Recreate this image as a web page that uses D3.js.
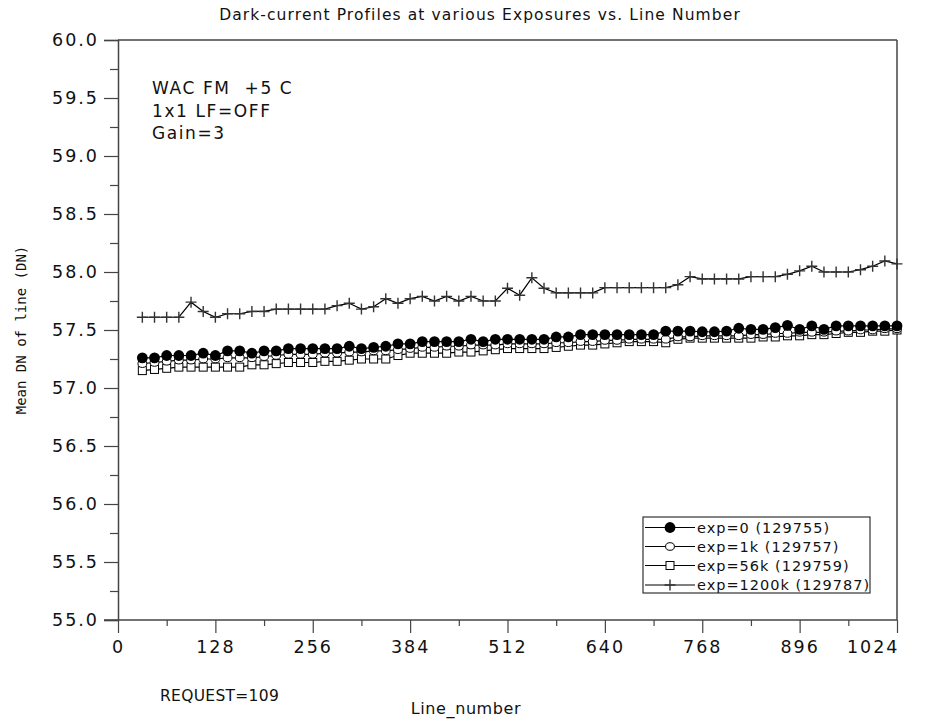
<!DOCTYPE html>
<html>
<head>
<meta charset="utf-8">
<script src="https://cdn.jsdelivr.net/npm/d3@7"></script>
<style>
  html, body { margin: 0; padding: 0; background: #fff; }
  svg { display: block; }
  text { font-family: "DejaVu Sans", Verdana, sans-serif; fill: #111; }
</style>
</head>
<body>
<svg id="chart" width="925" height="722"></svg>
<script>
// ---- data ----
const lineNumbers = [32,48,64,80,96,112,128,144,160,176,192,208,224,240,256,272,288,304,320,336,352,368,384,400,416,432,448,464,480,496,512,528,544,560,576,592,608,624,640,656,672,688,704,720,736,752,768,784,800,816,832,848,864,880,896,912,928,944,960,976,992,1008,1024];

const exp0 = [57.26,57.26,57.28,57.28,57.28,57.30,57.28,57.32,57.32,57.30,57.32,57.32,57.34,57.34,57.34,57.34,57.34,57.36,57.34,57.35,57.36,57.38,57.38,57.40,57.40,57.40,57.40,57.42,57.40,57.42,57.42,57.42,57.42,57.42,57.44,57.44,57.46,57.46,57.46,57.46,57.46,57.46,57.46,57.49,57.49,57.49,57.485,57.485,57.49,57.515,57.505,57.505,57.52,57.54,57.505,57.535,57.505,57.535,57.535,57.535,57.535,57.535,57.535];

const exp1k = [57.21,57.22,57.23,57.24,57.24,57.25,57.25,57.26,57.26,57.26,57.27,57.28,57.29,57.29,57.29,57.30,57.30,57.31,57.31,57.32,57.32,57.33,57.34,57.35,57.35,57.36,57.36,57.37,57.37,57.37,57.38,57.38,57.38,57.38,57.39,57.39,57.40,57.40,57.41,57.41,57.42,57.42,57.42,57.42,57.44,57.44,57.45,57.45,57.45,57.45,57.46,57.46,57.47,57.47,57.48,57.48,57.48,57.49,57.49,57.50,57.50,57.51,57.51];

const exp56k = [57.15,57.16,57.17,57.18,57.18,57.18,57.18,57.18,57.18,57.20,57.20,57.21,57.22,57.22,57.22,57.23,57.23,57.24,57.25,57.25,57.25,57.28,57.30,57.30,57.30,57.30,57.31,57.31,57.32,57.33,57.34,57.34,57.34,57.34,57.35,57.36,57.37,57.37,57.38,57.39,57.40,57.40,57.40,57.39,57.42,57.43,57.43,57.43,57.43,57.43,57.43,57.44,57.44,57.45,57.45,57.46,57.46,57.47,57.48,57.48,57.49,57.49,57.50];

const exp1200k = [57.61,57.61,57.61,57.61,57.74,57.66,57.61,57.64,57.64,57.66,57.66,57.68,57.68,57.68,57.68,57.68,57.71,57.73,57.68,57.70,57.77,57.73,57.77,57.79,57.75,57.79,57.75,57.79,57.75,57.75,57.86,57.80,57.95,57.86,57.82,57.82,57.82,57.82,57.865,57.865,57.865,57.865,57.865,57.865,57.89,57.96,57.94,57.94,57.94,57.94,57.96,57.96,57.96,57.98,58.01,58.05,58.00,58.00,58.00,58.02,58.05,58.095,58.07];

const seriesNames = ["exp=0 (129755)", "exp=1k (129757)", "exp=56k (129759)", "exp=1200k (129787)"];
const markerKinds = ["filledCircle", "openCircle", "square", "plus"];

const xMajorTicks = [0,128,256,384,512,640,768,896,1024];
const xMinorTicks = [64,192,320,448,576,704,832,960];
const yMajorTicks = [55.0,55.5,56.0,56.5,57.0,57.5,58.0,58.5,59.0,59.5,60.0];
const yMinorTicks = [55.25,55.75,56.25,56.75,57.25,57.75,58.25,58.75,59.25,59.75];

const titleText = "Dark-current Profiles at various Exposures vs. Line Number";
const xLabel = "Line_number";
const yLabel = "Mean DN of line (DN)";
const noteLines = ["WAC FM  +5 C", "1x1 LF=OFF", "Gain=3"];
const footNote = "REQUEST=109";

// ---- chart ----
const svg = d3.select("#chart");
const x = d3.scaleLinear().domain([0, 1024]).range([118, 897]);
const y = d3.scaleLinear().domain([55, 60]).range([620, 40]);

const axisColor = "#444";

// frame (top/right)
svg.append("line").attr("x1", x(0)).attr("x2", x(1024)).attr("y1", y(60)).attr("y2", y(60))
  .attr("stroke", axisColor).attr("stroke-width", 1.5);
svg.append("line").attr("x1", x(1024)).attr("x2", x(1024)).attr("y1", y(60)).attr("y2", y(55))
  .attr("stroke", axisColor).attr("stroke-width", 1.5);

// Y axis
const yAxisG = svg.append("g").attr("transform", `translate(${x(0)},0)`);
yAxisG.call(d3.axisLeft(y).tickValues(yMajorTicks).tickSize(14).tickPadding(5).tickFormat(d3.format(".1f")));
yAxisG.select(".domain").attr("stroke", axisColor).attr("stroke-width", 1.5);
yAxisG.selectAll(".tick line").attr("stroke", axisColor).attr("stroke-width", 1.2);
yAxisG.selectAll(".tick text").style("font-size", "17.5px").style("letter-spacing", "2px")
  .style("font-family", "'DejaVu Sans'").style("fill", "#111");
const yMinorG = svg.append("g").attr("transform", `translate(${x(0)},0)`);
yMinorG.call(d3.axisLeft(y).tickValues(yMinorTicks).tickSize(8).tickFormat(""));
yMinorG.select(".domain").remove();
yMinorG.selectAll(".tick line").attr("stroke", axisColor).attr("stroke-width", 1.2);

// X axis
const xAxisG = svg.append("g").attr("transform", `translate(0,${y(55)})`);
xAxisG.call(d3.axisBottom(x).tickValues(xMajorTicks).tickSize(13).tickPadding(8).tickFormat(d3.format("d")));
xAxisG.select(".domain").remove();
xAxisG.selectAll(".tick line").attr("stroke", axisColor).attr("stroke-width", 1.2);
xAxisG.selectAll(".tick text").style("font-size", "17.5px").style("letter-spacing", "2px")
  .style("font-family", "'DejaVu Sans'").style("fill", "#111");
xAxisG.selectAll(".tick text").filter(d => d === 1024).attr("text-anchor", "end").attr("dx", 2);
svg.append("line").attr("x1", 104).attr("x2", x(1024)).attr("y1", y(55)).attr("y2", y(55))
  .attr("stroke", axisColor).attr("stroke-width", 1.5);
const xMinorG = svg.append("g").attr("transform", `translate(0,${y(55)})`);
xMinorG.call(d3.axisBottom(x).tickValues(xMinorTicks).tickSize(6).tickFormat(""));
xMinorG.select(".domain").remove();
xMinorG.selectAll(".tick line").attr("stroke", axisColor).attr("stroke-width", 1.2);

// series
const allSeries = [exp0, exp1k, exp56k, exp1200k];
const lineGen = d3.line().x((d, i) => x(lineNumbers[i])).y(d => y(d));

function drawMarker(g, kind, cx, cy) {
  if (kind === "filledCircle") {
    g.append("circle").attr("cx", cx).attr("cy", cy).attr("r", 5.4).attr("fill", "#000");
  } else if (kind === "openCircle") {
    g.append("ellipse").attr("cx", cx).attr("cy", cy).attr("rx", 4.4).attr("ry", 3.8)
      .attr("fill", "#fff").attr("stroke", "#000").attr("stroke-width", 1);
  } else if (kind === "square") {
    g.append("rect").attr("x", cx - 4).attr("y", cy - 4).attr("width", 8).attr("height", 8)
      .attr("fill", "#fff").attr("stroke", "#000").attr("stroke-width", 1);
  } else if (kind === "plus") {
    g.append("path").attr("d", `M${cx - 5.5},${cy}H${cx + 5.5}M${cx},${cy - 5.5}V${cy + 5.5}`)
      .attr("stroke", "#333").attr("stroke-width", 1.4).attr("fill", "none");
  }
}

// draw in order: squares, open circles, filled circles, plus
const drawOrder = [2, 1, 0, 3];
drawOrder.forEach(si => {
  const data = allSeries[si];
  const g = svg.append("g");
  g.append("path").datum(data).attr("d", lineGen).attr("fill", "none")
    .attr("stroke", "#000").attr("stroke-width", 1.2);
  data.forEach((v, i) => drawMarker(g, markerKinds[si], x(lineNumbers[i]), y(v)));
});

// legend
const lg = svg.append("g");
lg.append("rect").attr("x", 643).attr("y", 517).attr("width", 227).attr("height", 76)
  .attr("fill", "#fff").attr("stroke", "#333").attr("stroke-width", 1.2);
const rowY = [527.5, 546.5, 565.5, 585];
seriesNames.forEach((name, i) => {
  lg.append("line").attr("x1", 645).attr("x2", 695).attr("y1", rowY[i]).attr("y2", rowY[i])
    .attr("stroke", "#000").attr("stroke-width", 1.1);
  drawMarker(lg, markerKinds[i], 670, rowY[i]);
  lg.append("text").attr("x", 697).attr("y", rowY[i] + 5)
    .style("font-size", "14.5px").style("letter-spacing", "1px").text(name);
});

// title
svg.append("text").attr("x", 480).attr("y", 20).attr("text-anchor", "middle")
  .style("font-size", "15.5px").style("letter-spacing", "1.1px").text(titleText);

// notes inside plot
noteLines.forEach((t, i) => {
  svg.append("text").attr("x", 152).attr("y", 94 + i * 22.5)
    .style("font-size", "17px").style("letter-spacing", "1.6px").style("white-space", "pre")
    .text(t);
});

// footnote + x label
svg.append("text").attr("x", 160).attr("y", 701)
  .style("font-size", "15.5px").style("letter-spacing", "0.3px").text(footNote);
svg.append("text").attr("x", 466).attr("y", 714).attr("text-anchor", "middle")
  .style("font-size", "16px").style("letter-spacing", "0.6px").text(xLabel);

// y label
svg.append("text").attr("transform", `translate(26,${y(57.5)}) rotate(-90)`)
  .attr("text-anchor", "middle")
  .style("font-family", "'DejaVu Sans Mono', monospace").style("font-size", "14px")
  .text(yLabel);
</script>
</body>
</html>
